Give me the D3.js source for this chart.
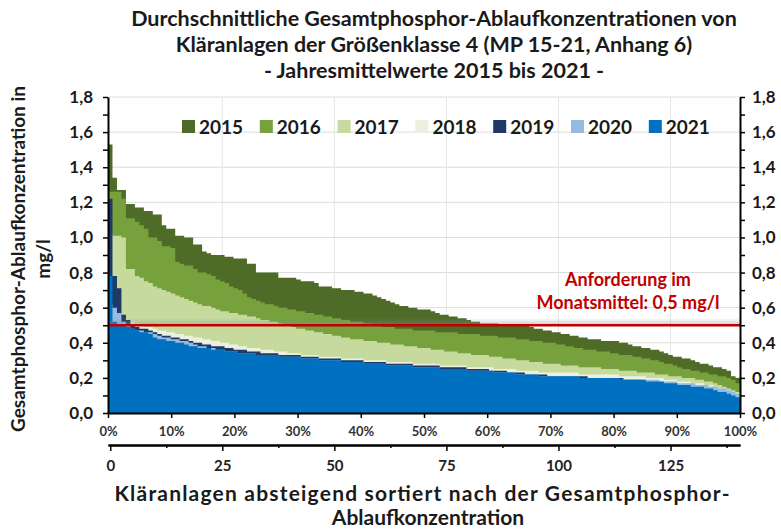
<!DOCTYPE html>
<html><head><meta charset="utf-8">
<script src="https://cdn.jsdelivr.net/npm/d3@7"></script>
<style>
body{margin:0;background:#fff}
svg{display:block}
text{font-family:Lato,"Open Sans",sans-serif;font-weight:bold}
</style>
</head><body>
<svg id="chart" width="781" height="532"></svg>
<script>
// ---------------- DATA ----------------
const years = ["2015","2016","2017","2018","2019","2020","2021"];

const v2015 = [1.53,1.34,1.27,1.27,1.19,1.19,1.17,1.17,1.15,1.15,
1.13,1.13,1.07,1.05,1.05,1.01,1.01,1.00,1.00,0.96,
0.96,0.92,0.91,0.90,0.90,0.90,0.89,0.89,0.88,0.88,
0.88,0.85,0.85,0.80,0.80,0.80,0.80,0.80,0.77,0.77,
0.77,0.77,0.76,0.75,0.75,0.75,0.74,0.72,0.72,0.72,
0.71,0.71,0.70,0.70,0.70,0.69,0.69,0.68,0.68,0.67,
0.66,0.65,0.64,0.63,0.62,0.61,0.61,0.60,0.60,0.59,
0.59,0.59,0.58,0.57,0.56,0.56,0.55,0.55,0.54,0.54,
0.53,0.52,0.52,0.51,0.51,0.51,0.51,0.50,0.50,0.50,
0.50,0.50,0.50,0.50,0.49,0.48,0.48,0.47,0.47,0.46,
0.46,0.45,0.45,0.44,0.44,0.43,0.43,0.42,0.42,0.42,
0.41,0.41,0.41,0.41,0.40,0.40,0.39,0.38,0.38,0.37,
0.37,0.36,0.36,0.35,0.34,0.33,0.32,0.32,0.31,0.31,
0.30,0.29,0.28,0.28,0.27,0.26,0.26,0.25,0.24,0.21,
0.20];

const v2016 = [1.26,1.26,1.26,1.22,1.11,1.11,1.09,1.07,1.05,1.00,
1.00,0.98,0.95,0.95,0.94,0.86,0.85,0.84,0.84,0.82,
0.80,0.80,0.79,0.78,0.76,0.75,0.74,0.72,0.71,0.70,
0.68,0.66,0.65,0.64,0.63,0.62,0.62,0.61,0.60,0.60,
0.59,0.59,0.58,0.58,0.57,0.57,0.56,0.56,0.55,0.55,
0.54,0.54,0.53,0.53,0.52,0.52,0.52,0.51,0.51,0.50,
0.50,0.49,0.49,0.49,0.48,0.48,0.48,0.48,0.47,0.47,
0.47,0.47,0.47,0.46,0.46,0.46,0.46,0.46,0.45,0.45,
0.45,0.45,0.45,0.44,0.44,0.44,0.44,0.43,0.43,0.43,
0.43,0.42,0.42,0.42,0.41,0.41,0.41,0.40,0.40,0.40,
0.39,0.39,0.38,0.38,0.37,0.37,0.36,0.36,0.36,0.35,
0.35,0.35,0.34,0.34,0.33,0.33,0.33,0.32,0.32,0.31,
0.31,0.30,0.30,0.29,0.28,0.28,0.27,0.26,0.25,0.25,
0.24,0.24,0.23,0.23,0.22,0.22,0.21,0.21,0.20,0.19,
0.17];

const v2017 = [1.02,1.01,1.01,1.00,0.82,0.82,0.78,0.77,0.75,0.74,
0.72,0.71,0.70,0.69,0.68,0.67,0.66,0.65,0.64,0.63,
0.62,0.61,0.61,0.60,0.59,0.58,0.58,0.57,0.57,0.56,
0.56,0.55,0.55,0.54,0.53,0.53,0.52,0.52,0.51,0.50,
0.50,0.49,0.48,0.48,0.47,0.47,0.46,0.46,0.45,0.45,
0.44,0.44,0.43,0.43,0.42,0.42,0.42,0.41,0.41,0.41,
0.40,0.40,0.40,0.39,0.39,0.39,0.38,0.38,0.38,0.37,
0.37,0.37,0.36,0.36,0.36,0.35,0.35,0.35,0.34,0.34,
0.34,0.33,0.33,0.33,0.33,0.32,0.32,0.32,0.31,0.31,
0.31,0.30,0.30,0.30,0.29,0.29,0.29,0.28,0.28,0.28,
0.28,0.27,0.27,0.27,0.27,0.26,0.26,0.26,0.26,0.26,
0.25,0.25,0.25,0.25,0.24,0.24,0.24,0.24,0.23,0.23,
0.23,0.23,0.22,0.22,0.22,0.21,0.21,0.21,0.20,0.20,
0.20,0.19,0.19,0.18,0.18,0.17,0.16,0.15,0.14,0.13,
0.12];

const v2018 = [0.65,0.62,0.58,0.55,0.53,0.52,0.51,0.50,0.49,0.49,
0.48,0.47,0.47,0.46,0.46,0.45,0.45,0.44,0.44,0.43,
0.43,0.42,0.42,0.41,0.41,0.40,0.40,0.39,0.39,0.38,
0.38,0.37,0.37,0.37,0.36,0.36,0.36,0.35,0.35,0.35,
0.34,0.34,0.34,0.33,0.33,0.33,0.33,0.32,0.32,0.32,
0.32,0.32,0.31,0.31,0.31,0.31,0.31,0.30,0.30,0.30,
0.30,0.30,0.29,0.29,0.29,0.29,0.29,0.29,0.28,0.28,
0.28,0.28,0.28,0.28,0.27,0.27,0.27,0.27,0.27,0.27,
0.26,0.26,0.26,0.26,0.26,0.26,0.25,0.25,0.25,0.25,
0.25,0.24,0.24,0.24,0.24,0.24,0.23,0.23,0.23,0.23,
0.23,0.23,0.23,0.23,0.23,0.22,0.22,0.22,0.22,0.22,
0.22,0.22,0.22,0.22,0.21,0.21,0.21,0.21,0.21,0.21,
0.20,0.20,0.20,0.20,0.19,0.19,0.19,0.18,0.18,0.18,
0.17,0.17,0.17,0.16,0.16,0.15,0.14,0.14,0.13,0.12,
0.11];

const v2019 = [1.22,0.78,0.71,0.56,0.53,0.50,0.49,0.48,0.48,0.47,
0.46,0.45,0.44,0.44,0.43,0.43,0.42,0.42,0.41,0.40,
0.40,0.39,0.39,0.38,0.38,0.38,0.37,0.37,0.36,0.36,
0.36,0.35,0.35,0.35,0.34,0.34,0.34,0.34,0.33,0.33,
0.33,0.33,0.33,0.32,0.32,0.32,0.32,0.31,0.31,0.31,
0.31,0.31,0.30,0.30,0.30,0.30,0.30,0.29,0.29,0.29,
0.29,0.29,0.28,0.28,0.28,0.28,0.28,0.28,0.27,0.27,
0.27,0.27,0.27,0.27,0.26,0.26,0.26,0.26,0.26,0.26,
0.25,0.25,0.25,0.25,0.25,0.24,0.24,0.24,0.24,0.23,
0.23,0.23,0.23,0.22,0.22,0.22,0.22,0.22,0.21,0.21,
0.21,0.21,0.21,0.21,0.21,0.21,0.21,0.20,0.20,0.20,
0.20,0.20,0.20,0.20,0.20,0.19,0.19,0.19,0.19,0.18,
0.18,0.18,0.18,0.17,0.17,0.17,0.16,0.16,0.16,0.15,
0.15,0.15,0.14,0.14,0.13,0.13,0.12,0.11,0.11,0.10,
0.09];

const v2020 = [0.62,0.60,0.57,0.52,0.50,0.48,0.47,0.47,0.46,0.46,
0.45,0.44,0.43,0.43,0.42,0.42,0.41,0.41,0.40,0.39,
0.38,0.38,0.37,0.37,0.36,0.36,0.35,0.35,0.35,0.34,
0.34,0.34,0.34,0.33,0.33,0.33,0.33,0.33,0.32,0.32,
0.32,0.32,0.32,0.31,0.31,0.31,0.31,0.30,0.30,0.30,
0.30,0.30,0.29,0.29,0.29,0.29,0.29,0.28,0.28,0.28,
0.28,0.28,0.27,0.27,0.27,0.27,0.27,0.27,0.26,0.26,
0.26,0.26,0.26,0.26,0.25,0.25,0.25,0.25,0.25,0.25,
0.24,0.24,0.24,0.24,0.24,0.24,0.23,0.23,0.23,0.23,
0.23,0.22,0.22,0.22,0.22,0.22,0.21,0.21,0.21,0.21,
0.21,0.21,0.21,0.21,0.21,0.20,0.20,0.20,0.20,0.20,
0.20,0.20,0.20,0.20,0.19,0.19,0.19,0.19,0.19,0.19,
0.19,0.19,0.19,0.18,0.18,0.18,0.18,0.17,0.17,0.17,
0.17,0.16,0.16,0.16,0.15,0.15,0.14,0.14,0.13,0.12,
0.11];

const v2021 = [0.78,0.52,0.50,0.50,0.49,0.48,0.47,0.46,0.46,0.45,
0.43,0.42,0.42,0.41,0.41,0.40,0.40,0.39,0.38,0.38,
0.37,0.37,0.37,0.36,0.36,0.36,0.35,0.35,0.35,0.34,
0.34,0.34,0.34,0.33,0.33,0.33,0.33,0.33,0.32,0.32,
0.32,0.32,0.32,0.31,0.31,0.31,0.31,0.30,0.30,0.30,
0.30,0.30,0.29,0.29,0.29,0.29,0.29,0.28,0.28,0.28,
0.28,0.28,0.27,0.27,0.27,0.27,0.27,0.27,0.26,0.26,
0.26,0.26,0.26,0.26,0.25,0.25,0.25,0.25,0.25,0.25,
0.24,0.24,0.24,0.24,0.24,0.24,0.23,0.23,0.23,0.23,
0.23,0.22,0.22,0.22,0.22,0.22,0.21,0.21,0.21,0.21,
0.21,0.21,0.21,0.21,0.21,0.20,0.20,0.20,0.20,0.20,
0.20,0.20,0.20,0.20,0.19,0.19,0.19,0.19,0.19,0.19,
0.18,0.18,0.18,0.18,0.17,0.17,0.17,0.16,0.16,0.16,
0.15,0.15,0.15,0.14,0.14,0.13,0.12,0.12,0.11,0.10,
0.09];

const seriesValues = [v2015, v2016, v2017, v2018, v2019, v2020, v2021];
const yTickValues = [0,0.2,0.4,0.6,0.8,1.0,1.2,1.4,1.6,1.8];
const pctTickValues = [0,0.1,0.2,0.3,0.4,0.5,0.6,0.7,0.8,0.9,1.0];
const plantTickValues = [0,25,50,75,100,125];
const limitValue = 0.5;
const limitLabel = ["Anforderung im", "Monatsmittel: 0,5 mg/l"];
const titleLines = ["Durchschnittliche Gesamtphosphor-Ablaufkonzentrationen von",
  "Kläranlagen der Größenklasse 4 (MP 15-21, Anhang 6)",
  "- Jahresmittelwerte 2015 bis 2021 -"];
const yTitleLines = ["Gesamtphosphor-Ablaufkonzentration in", "mg/l"];
const xTitleLines = ["Kläranlagen absteigend sortiert nach der Gesamtphosphor-", "Ablaufkonzentration"];

// ---------------- STYLE / LAYOUT ----------------
const colors = ["#4f6b28","#76a13d","#c5da9c","#ebf1de","#1f3a66","#95bbe3","#0070c0"];
const L = 108, R = 740, T = 97, B = 413;
const N = v2015.length;

const svg = d3.select("#chart");
const y = d3.scaleLinear().domain([0,1.8]).range([B,T]);
const xIdx = d3.scaleLinear().domain([0,N]).range([L,R]);
const xPct = d3.scaleLinear().domain([0,1]).range([L,R]);
const xPlant = d3.scaleLinear().domain([-0.5,N-0.5]).range([L,R]);
const fmtY = d => d3.format(".1f")(d).replace(".", ",");

// gridlines
const grid = svg.append("g");
grid.selectAll("line.h").data(yTickValues.filter(d=>d>0)).join("line")
  .attr("x1",L).attr("x2",R).attr("y1",d=>y(d)).attr("y2",d=>y(d))
  .attr("stroke","#dcdcdc").attr("stroke-width",1);
grid.selectAll("line.v").data(plantTickValues.filter(d=>d>0)).join("line")
  .attr("x1",d=>xPlant(d)).attr("x2",d=>xPlant(d)).attr("y1",T).attr("y2",B)
  .attr("stroke","#e6e6e6").attr("stroke-width",1);

// areas
const area = d3.area()
  .x((d,i)=>xIdx(i)).y0(y(0)).y1(d=>y(d))
  .curve(d3.curveStepAfter);
svg.append("g").selectAll("path").data(seriesValues).join("path")
  .attr("d", vals => area(vals.concat([vals[vals.length-1]])))
  .attr("fill",(d,i)=>colors[i]);

// limit line with shadow
const defs = svg.append("defs");
const grad = defs.append("linearGradient").attr("id","shadow").attr("x1",0).attr("x2",0).attr("y1",0).attr("y2",1);
grad.append("stop").attr("offset","0%").attr("stop-color","#888").attr("stop-opacity",0);
grad.append("stop").attr("offset","100%").attr("stop-color","#888").attr("stop-opacity",0.45);
svg.append("rect").attr("x",L).attr("width",R-L)
  .attr("y",y(limitValue+0.04)).attr("height",y(limitValue)-y(limitValue+0.04))
  .attr("fill","url(#shadow)");
svg.append("line").attr("x1",L).attr("x2",R).attr("y1",y(limitValue)).attr("y2",y(limitValue))
  .attr("stroke","#c00000").attr("stroke-width",2.6);

svg.append("g").selectAll("text").data(limitLabel).join("text")
  .attr("x",628).attr("y",(d,i)=>286+i*23).attr("text-anchor","middle")
  .attr("font-size",18).attr("fill","#c00000").text(d=>d);

// axes
const yMinor = d3.range(0,19).map(d=>d/10);
function styleAxis(g){
  g.select(".domain").attr("stroke","#000").attr("stroke-width",2);
  g.selectAll(".tick line").attr("stroke","#000").attr("stroke-width",1.5);
  g.selectAll("text").attr("fill","#1a1a1a");
}
svg.append("g").attr("transform",`translate(${L},0)`)
  .call(d3.axisLeft(y).tickValues(yMinor).tickSize(5).tickSizeOuter(0).tickPadding(10)
    .tickFormat(d=> (Math.round(d*10)%2===0) ? fmtY(d) : ""))
  .call(styleAxis).call(g=>g.selectAll("text").attr("font-size",17));
svg.append("g").attr("transform",`translate(${R},0)`)
  .call(d3.axisRight(y).tickValues(yMinor).tickSize(5).tickSizeOuter(0).tickPadding(7)
    .tickFormat(d=> (Math.round(d*10)%2===0) ? fmtY(d) : ""))
  .call(styleAxis).call(g=>g.selectAll("text").attr("font-size",17));
svg.append("g").attr("transform",`translate(0,${B})`)
  .call(d3.axisBottom(xPct).tickValues(pctTickValues).tickSize(5).tickSizeOuter(0).tickPadding(9)
    .tickFormat(d3.format(".0%")))
  .call(styleAxis).call(g=>g.selectAll("text").attr("font-size",13).attr("fill","#333"));

const plantAxisY = 445;
const minorPlant = d3.range(12.5,140,25);
svg.append("g").attr("transform",`translate(0,${plantAxisY})`)
  .call(d3.axisBottom(xPlant).tickValues(minorPlant).tickSize(3).tickSizeOuter(0).tickFormat(""))
  .call(styleAxis);
svg.append("g").attr("transform",`translate(0,${plantAxisY})`)
  .call(d3.axisBottom(xPlant).tickValues(plantTickValues).tickSize(6).tickSizeOuter(0).tickPadding(9))
  .call(styleAxis).call(g=>g.selectAll("text").attr("font-size",15).attr("fill","#222"));

// legend
const leg = svg.append("g");
years.forEach((yr,i)=>{
  const gx = 182 + i*77.8;
  leg.append("rect").attr("x",gx).attr("y",120).attr("width",13).attr("height",13).attr("fill",colors[i]);
  leg.append("text").attr("x",gx+17).attr("y",134).attr("font-size",19).attr("fill","#1a1a1a").text(yr);
});

// titles
svg.append("g").selectAll("text").data(titleLines).join("text")
  .attr("x",434).attr("y",(d,i)=>26+i*26).attr("text-anchor","middle")
  .attr("font-size",21.5).attr("fill","#1a1a1a").text(d=>d);
svg.append("g").selectAll("text").data(yTitleLines).join("text")
  .attr("transform",(d,i)=>`translate(${25+i*25},259) rotate(-90)`)
  .attr("text-anchor","middle").attr("font-size",19).attr("fill","#1a1a1a").text(d=>d);
svg.append("g").selectAll("text").data(xTitleLines).join("text")
  .attr("x",(d,i)=> i===0 ? 422 : 428).attr("y",(d,i)=>501+i*24).attr("text-anchor","middle")
  .attr("font-size",21)
  .attr("textLength",(d,i)=> i===0 ? 615 : null)
  .attr("lengthAdjust","spacing")
  .attr("fill","#1a1a1a").text(d=>d);
</script>
</body></html>
